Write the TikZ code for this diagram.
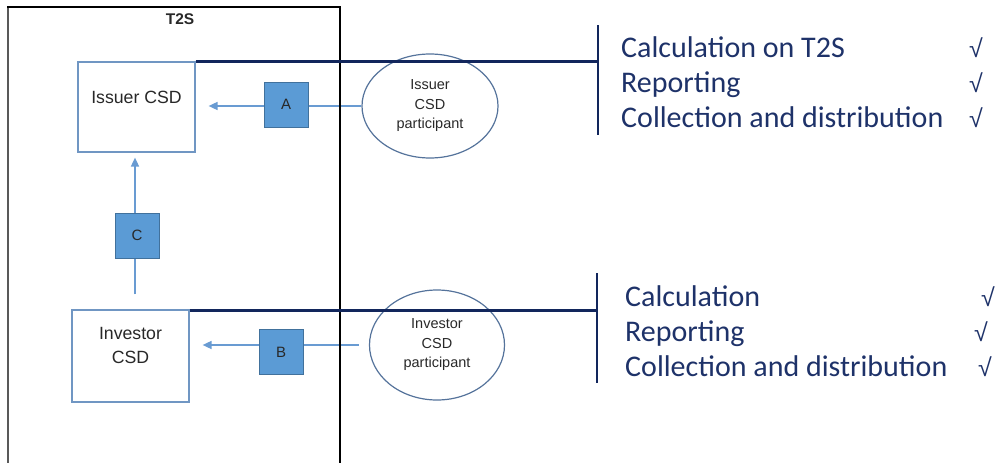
\documentclass[tikz,border=0pt]{standalone}
\usepackage{fontspec}
\setmainfont{Liberation Sans}
\newfontfamily\calib{Carlito}
\usetikzlibrary{shapes.geometric,arrows.meta,backgrounds}
\definecolor{boxline}{RGB}{112,150,195}
\definecolor{sqfill}{RGB}{91,155,213}
\definecolor{sqline}{RGB}{65,113,156}
\definecolor{arrline}{RGB}{105,155,210}
\definecolor{navy}{RGB}{18,38,92}
\definecolor{ellline}{RGB}{85,115,155}
\definecolor{rtext}{RGB}{30,50,105}
\definecolor{ltext}{RGB}{40,40,40}
\tikzset{
  csdbox/.style={draw=boxline,line width=1.2pt,minimum width=117pt,inner xsep=0pt,inner ysep=3pt,
    font=\fontsize{17.7}{23.5}\selectfont,text=ltext,align=center},
  sqbox/.style={draw=sqline,fill=sqfill,line width=1pt,minimum width=44pt,minimum height=45pt,
    inner sep=0pt,font=\fontsize{15}{18}\selectfont,text=ltext},
  partell/.style={draw=ellline,ellipse,line width=1.2pt,inner sep=0pt,
    font=\fontsize{14.5}{19.5}\selectfont,text=ltext,align=center},
  flowarr/.style={draw=arrline,line width=1.6pt,-{Triangle[length=9pt,width=8pt]}},
  navyline/.style={draw=navy,line width=2.3pt},
  rline/.style={anchor=base west,inner sep=0pt,font=\calib\fontsize{30}{35}\selectfont,text=rtext},
  rcheck/.style={anchor=base,inner sep=0pt,font=\fontsize{25}{30}\selectfont,text=rtext},
}
\begin{document}
\begin{tikzpicture}[x=1pt,y=-1pt]
\useasboundingbox (0,0) rectangle (996,463);
% T2S frame
\draw[line width=2pt,black!65] (8,7) -- (8,463);
\draw[line width=2pt,black] (7,7) -- (341,7);
\draw[line width=2.5pt,black] (340,6) -- (340,463);
\node[font=\bfseries\fontsize{15.5}{18}\selectfont,text=ltext] (t2s) at (180,19) {T2S};
% CSD boxes
\node[csdbox,text height=38pt,text depth=46pt] (ics) at (136.5,107) {Issuer CSD};
\node[csdbox,text height=50pt,text depth=36pt] (ivcsd) at (130.5,356) {Investor\\CSD};
% participant ellipses
\node[partell,minimum width=136pt,minimum height=104pt] (ip) at (430,106) {Issuer\\CSD\\participant};
\node[partell,minimum width=135pt,minimum height=110pt] (vp) at (437,345) {Investor\\CSD\\participant};
% labelled squares
\node[sqbox] (A) at (286,104.5) {A};
\node[sqbox] (B) at (281,352) {B};
\node[sqbox] (C) at (137,235.5) {C};
% bracket coordinates
\coordinate (br1t) at (598,25);
\coordinate (br1b) at (598,135);
\coordinate (br2t) at (597,273);
\coordinate (br2b) at (597,383);
\begin{scope}[on background layer]
  \draw[flowarr,shorten >=13pt] (ip.west) -- (ip.west -| ics.east);
  \draw[flowarr,shorten <=10pt,shorten >=13pt] (vp.west) -- (vp.west -| ivcsd.east);
  \draw[flowarr,shorten <=15pt,shorten >=5pt] ([xshift=-2pt]C |- ivcsd.north) -- ([xshift=-2pt]C |- ics.south);
\end{scope}
% navy connectors and brackets
\draw[navyline] (ics.north east) -- (ics.north east -| br1t);
\draw[navyline] (br1t) -- (br1b);
\draw[navyline] ([yshift=-1pt]ivcsd.north east) -- ([yshift=-1pt]ivcsd.north east -| br2t);
\draw[navyline] (br2t) -- (br2b);
% right hand texts
\node[rline] (l1) at (621,57) {Calculation on T2S};
\node[rline] (l2) at (621,92) {Reporting};
\node[rline] (l3) at (621,127) {Collection and distribution};
\node[rcheck] (c1) at (976,57) {√};
\node[rcheck] (c2) at (976,92) {√};
\node[rcheck] (c3) at (976,127) {√};
\node[rline] (m1) at (625,306) {Calculation};
\node[rline] (m2) at (625,341) {Reporting};
\node[rline] (m3) at (625,376) {Collection and distribution};
\node[rcheck] (d1) at (988,306) {√};
\node[rcheck] (d2) at (981,341) {√};
\node[rcheck] (d3) at (985,376) {√};
\end{tikzpicture}
\end{document}
